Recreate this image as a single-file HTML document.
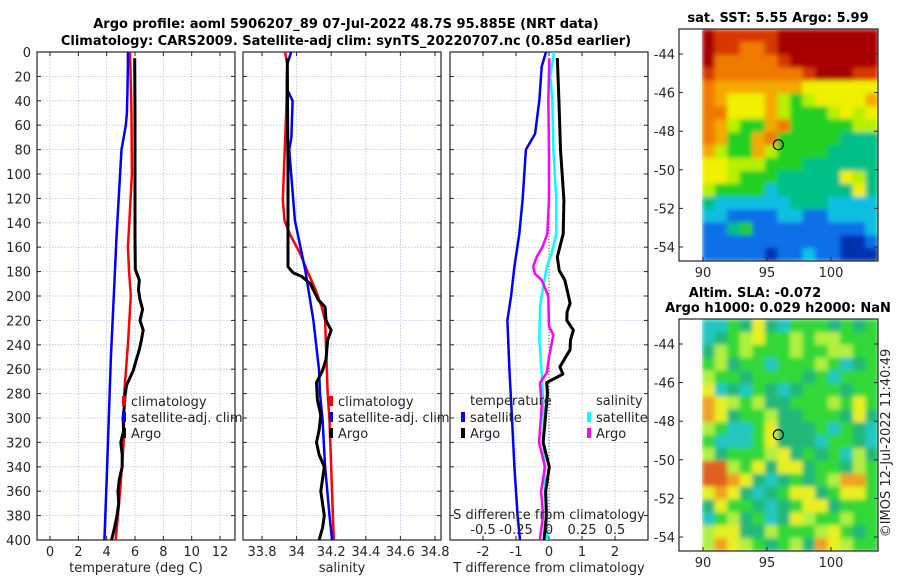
<!DOCTYPE html>
<html><head><meta charset="utf-8"><style>
body{margin:0;background:#fff;}
svg{display:block;font-family:"DejaVu Sans","Liberation Sans",sans-serif;}
.t{font-size:13px;fill:#262626;}
.b{font-weight:bold;font-size:13px;fill:#000;}
</style></head><body>
<svg id="s" width="900" height="580" viewBox="0 0 900 580">
<defs>
<filter id="bl" x="0" y="0" width="1" height="1"><feGaussianBlur stdDeviation="2.5" edgeMode="duplicate"/></filter>
<clipPath id="c1"><rect x="702" y="29" width="176" height="232"/></clipPath>
<clipPath id="c2"><rect x="702" y="319" width="176" height="232"/></clipPath>
</defs>
</svg>
<script>
// ---- data ----
const tempSatDepth=[0,10,30,50,60,70,80,100,150,200,250,300,350,400];
const tempSatVal=[5.5,5.5,5.47,5.43,5.35,5.2,5.05,4.95,4.7,4.5,4.3,4.15,4.0,3.84];
const tempClimDepth=[0,50,100,140,160,180,200,240,280,320,360,400];
const tempClimVal=[5.65,5.75,5.78,5.6,5.5,5.58,5.7,5.5,5.24,5.2,4.95,4.64];
const tempArgoDepth=[5,50,100,150,178,187,195,203,211,220,228,236,244,252,261,273,281,290,300,310,320,330,340,350,360,370,380,390,400];
const tempArgoVal=[5.98,6.0,6.0,6.0,6.02,6.3,6.25,6.35,6.54,6.35,6.58,6.45,6.3,6.1,5.88,5.41,5.3,5.25,5.15,5.2,5.0,5.1,5.1,4.9,4.8,4.85,4.73,4.55,4.35];
const salSatDepth=[0,10,30,40,70,80,138,179,220,261,280,302,340,380,400];
const salSatVal=[33.968,33.946,33.943,33.977,33.97,33.957,33.99,34.05,34.097,34.13,34.135,34.15,34.165,34.19,34.205];
const salClimDepth=[0,10,50,121,138,149,165,179,195,209,220,280,302,400];
const salClimVal=[33.933,33.946,33.94,33.92,33.93,33.96,34.02,34.06,34.11,34.145,34.165,34.18,34.19,34.215];
const salArgoDepth=[5,50,100,150,176,181,184,190,203,209,220,228,236,252,261,271,285,298,310,320,330,340,360,380,390,400];
const salArgoVal=[33.946,33.948,33.95,33.95,33.95,33.98,34.03,34.08,34.125,34.165,34.17,34.2,34.18,34.17,34.15,34.115,34.12,34.14,34.13,34.115,34.13,34.16,34.14,34.16,34.15,34.13];
const dTSatDepth=[0,12,39,67,80,121,149,176,200,220,260,300,340,360,380,400];
const dTSatVal=[-0.09,-0.22,-0.29,-0.42,-0.7,-0.8,-0.9,-1.05,-1.15,-1.26,-1.2,-1.12,-1.05,-1.0,-0.95,-0.88];
const dTArgoDepth=[5,39,80,121,149,168,179,187,195,206,213,220,228,236,244,258,264,271,280,300,320,340,360,380,400];
const dTArgoVal=[0.25,0.3,0.35,0.45,0.43,0.25,0.31,0.48,0.55,0.64,0.55,0.54,0.74,0.65,0.64,0.33,0.42,-0.07,-0.05,-0.11,-0.18,0.01,-0.1,-0.08,-0.15];
const dSSatDepth=[0,20,39,80,121,149,165,176,200,209,236,263,290,320,360,400];
const dSSatVal=[0.038,0.01,0.025,0.033,0.055,0.055,0.02,-0.017,-0.055,-0.068,-0.073,-0.055,-0.043,-0.04,-0.03,-0.012];
const dSArgoDepth=[5,39,80,121,149,160,168,176,182,187,200,225,232,250,263,271,290,320,340,360,380,400];
const dSArgoVal=[0.003,-0.005,0.0,0.0,-0.013,-0.05,-0.093,-0.12,-0.106,-0.055,-0.005,0.0,0.033,0.0,-0.017,-0.068,-0.055,-0.075,-0.03,-0.06,-0.045,-0.07];
const depthTicks=[0,20,40,60,80,100,120,140,160,180,200,220,240,260,280,300,320,340,360,380,400];
const tempTicks=[0,2,4,6,8,10,12];
const salTicks=[33.8,34,34.2,34.4,34.6,34.8];
const salTickLabels=["33.8","34","34.2","34.4","34.6","34.8"];
const dTTicks=[-2,-1,0,1,2];
const dSTicks=[-0.5,-0.25,0,0.25,0.5];
const latTicks=[-44,-46,-48,-50,-52,-54];
const lonTicks=[90,95,100];
const sstRows=[
"RrrrrrRRRRRRRR","RrroorRRRRRRRR","RooooorRRRRRRR","rooooooorRRRrr","oOOOOOOOyyyyyy",
"oOyyyOYgYyyyyO","ooyyyOYgggYyYy","oOYggOogggggYY","oOggOogggggttt","OYggOYggggtttt",
"yyYYYgggtttttt","yyYgggtttttyYt","Yggggcttttttyt","tcccccctttcccc","ccbbbbccbbcccc",
"bbtgbbbbbbbbbc","bbbbbbbbbbbBBb","bbbbbBbbcbbBBB"];
const slaRows=[
"ccgGyGcgggGgGg","cGgYyggYgYYggg","GYgYgggYggYYgg","gYGggcgggYgcGg","YggGggggGgcggg",
"ycGcgGcGgggGgg","oyYgYGGgggYgyg","oyGggYGGgggGyG","YgccgyGGGgcgGc","gcccgyGGGcggGc",
"YGgggYyGgGgcYG","rrYgyGyyGggGYg","rroyGcGgGgYoog","yoyGcGgyyGgyyg","GyggGcGgyyGggg",
"cgYGgcGyYggYgg","YyyGGYgggYygGg","YoyYgGgYGoyYgg"];
const sstCol={R:"#a80000",r:"#d83800",o:"#f07a00",O:"#f4a800",y:"#f0f000",Y:"#b8f000",g:"#20d020",t:"#00c088",c:"#10c0e0",b:"#1070e8",B:"#0030b0"};
const slaCol={g:"#30d838",G:"#20b878",c:"#20c8c0",y:"#e8f020",Y:"#b0f040",o:"#f0a020",r:"#e06020"};

// ---- helpers ----
const S=document.getElementById('s');const NS="http://www.w3.org/2000/svg";
function mk(tag,attrs,parent){const e=document.createElementNS(NS,tag);for(const k in attrs)e.setAttribute(k,attrs[k]);(parent||S).appendChild(e);return e;}
function txt(x,y,s,cls,anchor,parent){const e=mk('text',{x:x,y:y,class:cls,'text-anchor':anchor||'start'},parent);e.textContent=s;return e;}
const Y0=52,Y1=540;
const yD=d=>Y0+(Y1-Y0)*d/400;
function lin(a,b,pa,pb){return v=>pa+(v-a)*(pb-pa)/(b-a);}
const xT=lin(0,12,50,220);
const xS=lin(33.8,34.8,262,435);
const xDT=lin(-2,2,483,615);
const xDS=v=>xDT(v*4);
const panels=[[37,235],[243,441],[450,648]];

let e;
e=txt(346,28,"Argo profile: aoml 5906207_89 07-Jul-2022 48.7S 95.885E (NRT data)","b","middle");

e=txt(346,45,"Climatology: CARS2009. Satellite-adj clim: synTS_20220707.nc (0.85d earlier)","b","middle");


function panel(i,xs,xf,name){
  const [l,r]=panels[i];
  const g=mk('g',{});
  
  
  depthTicks.forEach(d=>{mk('line',{x1:l,x2:r,y1:yD(d),y2:yD(d),stroke:'#b8c0e0','stroke-width':0.8,'stroke-dasharray':'1.5 1.5'},g);});
  xs.forEach(v=>{mk('line',{x1:xf(v),x2:xf(v),y1:Y0,y2:Y1,stroke:'#b8c0e0','stroke-width':0.8,'stroke-dasharray':'1.5 1.5'},g);});
  depthTicks.forEach(d=>{mk('line',{x1:l,x2:l+4,y1:yD(d),y2:yD(d),stroke:'#262626'},g);mk('line',{x1:r,x2:r-4,y1:yD(d),y2:yD(d),stroke:'#262626'},g);});
  xs.forEach(v=>{mk('line',{x1:xf(v),x2:xf(v),y1:Y1,y2:Y1-4,stroke:'#262626'},g);mk('line',{x1:xf(v),x2:xf(v),y1:Y0,y2:Y0+4,stroke:'#262626'},g);});
  mk('rect',{x:l,y:Y0,width:r-l,height:Y1-Y0,fill:'none',stroke:'#262626','stroke-width':1.2},g);
  return g;
}
function line(g,depths,vals,xf,color,w,name){
  const p=mk('polyline',{points:depths.map((d,i)=>xf(vals[i]).toFixed(1)+","+yD(d).toFixed(1)).join(" "),fill:'none',stroke:color,'stroke-width':w,'stroke-linejoin':'round'},g);
  
  
}
const yl=mk('g',{});
depthTicks.forEach(d=>txt(31,yD(d)+5,String(d),'t','end',yl));

const g1=panel(0,tempTicks,xT,'temperature-panel');
tempTicks.forEach(v=>txt(xT(v),556,String(v),'t','middle',g1));
txt(136,572,"temperature (deg C)",'t','middle',g1);
line(g1,tempClimDepth,tempClimVal,xT,'#ff0000',2.5,'temp-climatology-line');
line(g1,tempSatDepth,tempSatVal,xT,'#0000ff',2.5,'temp-satellite-line');
line(g1,tempArgoDepth,tempArgoVal,xT,'#000',3,'temp-argo-line');
const g2=panel(1,salTicks,xS,'salinity-panel');
salTicks.forEach((v,i)=>txt(xS(v),556,salTickLabels[i],'t','middle',g2));
txt(342,572,"salinity",'t','middle',g2);
line(g2,salClimDepth,salClimVal,xS,'#ff0000',2.5,'sal-climatology-line');
line(g2,salSatDepth,salSatVal,xS,'#0000ff',2.5,'sal-satellite-line');
line(g2,salArgoDepth,salArgoVal,xS,'#000',3,'sal-argo-line');
const g3=panel(2,dTTicks,xDT,'difference-panel');
dTTicks.forEach(v=>txt(xDT(v),556,String(v),'t','middle',g3));
txt(549,572,"T difference from climatology",'t','middle',g3);
mk('line',{x1:xDT(0),x2:xDT(0),y1:Y0+10,y2:Y1,stroke:'#555','stroke-width':1,'stroke-dasharray':'1 2'},g3);
line(g3,dTSatDepth,dTSatVal,xDT,'#0000ff',2.5,'dt-satellite-line');
line(g3,dSSatDepth,dSSatVal,xDS,'#00ffff',2.5,'ds-satellite-line');
line(g3,dSArgoDepth,dSArgoVal,xDS,'#ff00ff',2.5,'ds-argo-line');
line(g3,dTArgoDepth,dTArgoVal,xDT,'#000',3,'dt-argo-line');
txt(549,519,"S difference from climatology",'t','middle',g3);
dSTicks.forEach(v=>txt(xDS(v),534,String(v),'t','middle',g3));

function legend(x,y,color,label,name){
  const g=mk('g',{});
  mk('rect',{x:x-2,y:y-10,width:4,height:10,fill:color},g);
  txt(x+7,y,label,'t','start',g);
}
legend(124,406,'#ff0000','climatology','legend-temp-climatology');
legend(124,422,'#0000ff','satellite-adj. clim','legend-temp-satellite');
legend(124,438,'#000','Argo','legend-temp-argo');
legend(331,406,'#ff0000','climatology','legend-sal-climatology');
legend(331,422,'#0000ff','satellite-adj. clim','legend-sal-satellite');
legend(331,438,'#000','Argo','legend-sal-argo');
e=txt(470,405,'temperature','t','start');
e=txt(596,405,'salinity','t','start');
legend(463,422,'#0000ff','satellite','legend-dt-satellite');
legend(463,438,'#000','Argo','legend-dt-argo');
legend(589,422,'#00ffff','satellite','legend-ds-satellite');
legend(589,438,'#ff00ff','Argo','legend-ds-argo');

function map(top,bot,rows,cols,name,latTop,latBot,clip){
  const g=mk('g',{});
  const L=679,R=878,IL=702;
  const lat=lin(-44,-54,latTop,latBot);
  const lon=lin(90,100,703,831);
  const nr=rows.length,nc=rows[0].length,cw=(R-IL)/nc,rh=(bot-top)/nr;
  const cg=mk('g',{'clip-path':'url(#'+clip+')'},g);
  const ig=mk('g',{filter:'url(#bl)'},cg);
  rows.forEach((row,ri)=>{for(let ci=0;ci<nc;ci++){
    const c=mk('rect',{x:(IL+ci*cw).toFixed(2),y:(top+ri*rh).toFixed(2),width:(cw+0.6).toFixed(2),height:(rh+0.6).toFixed(2),fill:cols[row[ci]]},ig);
    }});
  mk('rect',{x:L,y:top,width:R-L,height:bot-top,fill:'none',stroke:'#262626','stroke-width':1.2},g);
  latTicks.forEach(v=>{mk('line',{x1:L,x2:L+4,y1:lat(v),y2:lat(v),stroke:'#262626'},g);mk('line',{x1:R,x2:R-4,y1:lat(v),y2:lat(v),stroke:'#262626'},g);txt(675,lat(v)+5,String(v),'t','end',g);});
  lonTicks.forEach(v=>{mk('line',{x1:lon(v),x2:lon(v),y1:bot,y2:bot-4,stroke:'#262626'},g);txt(lon(v),bot+16,String(v),'t','middle',g);});
  const ci=mk('circle',{cx:lon(95.885),cy:lat(-48.7),r:5,fill:'none',stroke:'#000','stroke-width':1.2},g);
  
}
map(29,261,sstRows,sstCol,'sst-map',54,247,'c1');
map(319,551,slaRows,slaCol,'sla-map',344,537,'c2');
e=txt(778,22,"sat. SST: 5.55 Argo: 5.99","b","middle");
e=txt(755,297,"Altim. SLA: -0.072","b","middle");
e=txt(778,312,"Argo h1000: 0.029 h2000: NaN","b","middle");
e=txt(0,0,"©IMOS 12-Jul-2022 11:40:49","t","middle");e.setAttribute('transform','translate(890,443) rotate(-90)');

</script>
</body></html>
